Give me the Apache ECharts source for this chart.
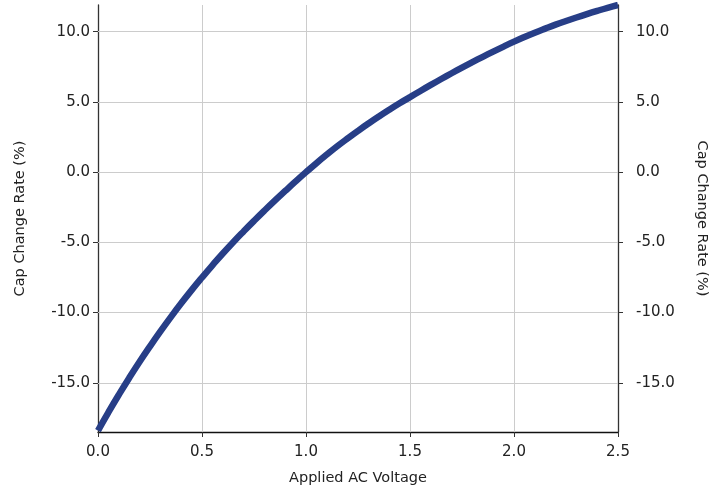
<!DOCTYPE html>
<html>
<head>
<meta charset="utf-8">
<script src="https://cdn.jsdelivr.net/npm/echarts@6/dist/echarts.min.js"></script>
<style>
html,body{margin:0;padding:0;background:#fff;}
#chart{width:724px;height:495px;}
</style>
</head>
<body>
<div id="chart"></div>
<script>
const voltage = [0.00,0.05,0.10,0.15,0.20,0.25,0.30,0.35,0.40,0.45,0.50,0.55,0.60,0.65,0.70,0.75,0.80,0.85,0.90,0.95,1.00,1.05,1.10,1.15,1.20,1.25,1.30,1.35,1.40,1.45,1.50,1.55,1.60,1.65,1.70,1.75,1.80,1.85,1.90,1.95,2.00,2.05,2.10,2.15,2.20,2.25,2.30,2.35,2.40,2.45,2.50];
const capChange = [-18.40,-17.10,-15.85,-14.65,-13.50,-12.40,-11.34,-10.32,-9.34,-8.40,-7.50,-6.63,-5.79,-4.99,-4.22,-3.47,-2.74,-2.03,-1.34,-0.66,0.00,0.64,1.25,1.84,2.40,2.94,3.46,3.96,4.44,4.90,5.34,5.78,6.21,6.63,7.04,7.44,7.83,8.21,8.58,8.94,9.29,9.62,9.93,10.22,10.50,10.76,11.01,11.25,11.48,11.70,11.90];
const xTicks = [0,0.5,1.0,1.5,2.0,2.5];
const yTicks = [-15,-10,-5,0,5,10];
const titleText = 'Cap Change Rate vs Applied AC Voltage';
const xName = 'Applied AC Voltage';
const yName = 'Cap Change Rate (%)';

const FONT = 'DejaVu Sans';
const chart = echarts.init(document.getElementById('chart'), null, {renderer:'canvas'});
const pts = voltage.map((v,i)=>[v, capChange[i]]);
const yMin = -18.5, yMax = 11.9;
const labelStyle = {color:'#222', fontFamily:FONT, fontSize:15};
function yAxisDef(pos){
  return {
    type:'value', position:pos, min:yMin, max:yMax,
    name:yName, nameLocation:'middle', nameGap: pos==='left'?70:76,
    nameRotate: pos==='left'?90:-90,
    nameTextStyle:{color:'#222', fontFamily:FONT, fontSize:14.5},
    axisLine:{show:true, onZero:false, lineStyle:{color:'#333', width:1.3}},
    axisTick:{show:true, length:5, lineStyle:{color:'#333'}},
    axisLabel:Object.assign({margin: pos==='left'?8:18, showMinLabel:false, showMaxLabel:false,
      formatter:v=> yTicks.includes(Math.round(v*100)/100) ? v.toFixed(1) : ''}, labelStyle),
    splitLine:{show:false}
  };
}
chart.setOption({
  animation:false,
  title:{text:titleText, left:'center', top:-26, textStyle:{fontFamily:FONT, fontSize:22, fontWeight:'normal', color:'#555'}},
  grid:{left:98, right:106, top:5, bottom:63, containLabel:false},
  xAxis:{
    type:'value', min:0, max:2.5, interval:0.5,
    name:xName, nameLocation:'middle', nameGap:39,
    nameTextStyle:{color:'#222', fontFamily:FONT, fontSize:14.5},
    axisLine:{show:true, onZero:false, lineStyle:{color:'#111', width:1.3}},
    axisTick:{show:true, length:5, lineStyle:{color:'#333'}},
    axisLabel:Object.assign({margin:13, formatter:v=>v.toFixed(1)}, labelStyle),
    splitLine:{show:false}
  },
  yAxis:[yAxisDef('left'), yAxisDef('right')],
  series:[
    {
      type:'line', data:pts, smooth:true, showSymbol:false, yAxisIndex:0,
      lineStyle:{color:'#273e87', width:6.5}, z:5,
      markLine:{
        silent:true, symbol:'none', label:{show:false},
        lineStyle:{color:'#cccccc', width:1, type:'solid'},
        data: yTicks.map(t=>({yAxis:t})).concat(xTicks.filter(t=>t>0&&t<2.5).map(t=>({xAxis:t}))),
        z:1
      }
    }
  ]
});
</script>
</body>
</html>
